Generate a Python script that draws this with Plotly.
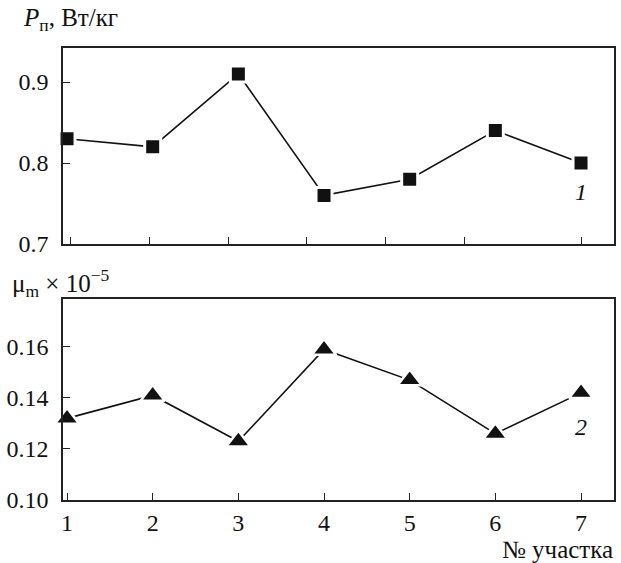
import plotly.graph_objects as go
from plotly.subplots import make_subplots

sections = [1, 2, 3, 4, 5, 6, 7]
power_loss = [0.83, 0.82, 0.91, 0.76, 0.78, 0.84, 0.80]
mu_m = [0.132, 0.141, 0.123, 0.159, 0.147, 0.126, 0.142]
top_x_ticks = [1.035, 1.957, 2.88, 3.80, 4.72, 5.64, 7.0]
top_y_ticks = [0.7, 0.8, 0.9]
bottom_y_ticks = [0.10, 0.12, 0.14, 0.16]
x_tick_labels = ["1", "2", "3", "4", "5", "6", "7"]

FONT = "Liberation Serif, Times New Roman, serif"
FS = 24
W, H = 621, 563
L, R, T, B = 63, 7, 48, 63

fig = make_subplots(rows=2, cols=1, shared_xaxes=False, vertical_spacing=0.12)

fig.add_trace(go.Scatter(
    x=sections, y=power_loss, mode="lines+markers",
    line=dict(color="#111", width=1.6),
    marker=dict(symbol="square", size=16, color="#111", line=dict(color="white", width=3)),
    showlegend=False, cliponaxis=False, hoverinfo="skip"), row=1, col=1)

fig.add_trace(go.Scatter(
    x=sections, y=mu_m, mode="lines+markers",
    line=dict(color="#111", width=1.6),
    marker=dict(symbol="triangle-up", size=21, color="#111", line=dict(color="white", width=2.5)),
    showlegend=False, cliponaxis=False, hoverinfo="skip"), row=2, col=1)

plot_h = H - T - B
top_dom = [(500 - 244) / plot_h, 1.0]
bot_dom = [0.0, (500 - 299) / plot_h]

axis_common = dict(showline=True, linecolor="#222", linewidth=1.5, mirror=True,
                   ticks="inside", ticklen=7, tickwidth=1.3, tickcolor="#222",
                   showgrid=False, zeroline=False, automargin=False,
                   tickfont=dict(family=FONT, size=FS, color="#111"))

xrange = [0.953, 7.385]
fig.update_xaxes(range=xrange, tickvals=top_x_ticks, showticklabels=False,
                 row=1, col=1, **axis_common)
fig.update_xaxes(range=xrange, tickvals=sections, ticktext=x_tick_labels,
                 ticklabelstandoff=0, row=2, col=1, **axis_common)
fig.update_yaxes(range=[0.7, 0.942], tickvals=top_y_ticks, tickformat=".1f",
                 ticklabelstandoff=8, domain=top_dom, row=1, col=1, **axis_common)
fig.update_yaxes(range=[0.10, 0.1788], tickvals=bottom_y_ticks, tickformat=".2f",
                 ticklabelstandoff=8, domain=bot_dom, row=2, col=1, **axis_common)

pw = W - L - R
def px_x(p):
    return (p - L) / pw
def px_y(p):
    return (H - B - p) / plot_h

NB = "\u00a0"
annots = [
    dict(text="<i>P</i><sub>п</sub>," + NB + "Вт/кг", x=px_x(21), y=px_y(20), xanchor="left", yanchor="middle", size=25),
    dict(text="μ<sub>m</sub>" + NB + "×" + NB + "10<sup>−5</sup>", x=px_x(10), y=px_y(283), xanchor="left", yanchor="middle", size=25),
    dict(text="№" + NB + "участка", x=px_x(615), y=px_y(549), xanchor="right", yanchor="middle", size=25),
]
for a in annots:
    size = a.pop("size")
    fig.add_annotation(xref="paper", yref="paper", showarrow=False,
                       font=dict(family=FONT, size=size, color="#111"), **a)

fig.add_annotation(xref="x", yref="y", x=7, y=0.764, text="<i>1</i>", showarrow=False,
                   font=dict(family=FONT, size=FS, color="#111"))
fig.add_annotation(xref="x2", yref="y2", x=7, y=0.1286, text="<i>2</i>", showarrow=False,
                   font=dict(family=FONT, size=FS, color="#111"))

fig.update_layout(width=W, height=H, margin=dict(l=L, r=R, t=T, b=B),
                  paper_bgcolor="white", plot_bgcolor="white", hovermode=False)

fig.write_html("out.html", config={"displayModeBar": False},
               post_script="document.body.style.margin='0';")
